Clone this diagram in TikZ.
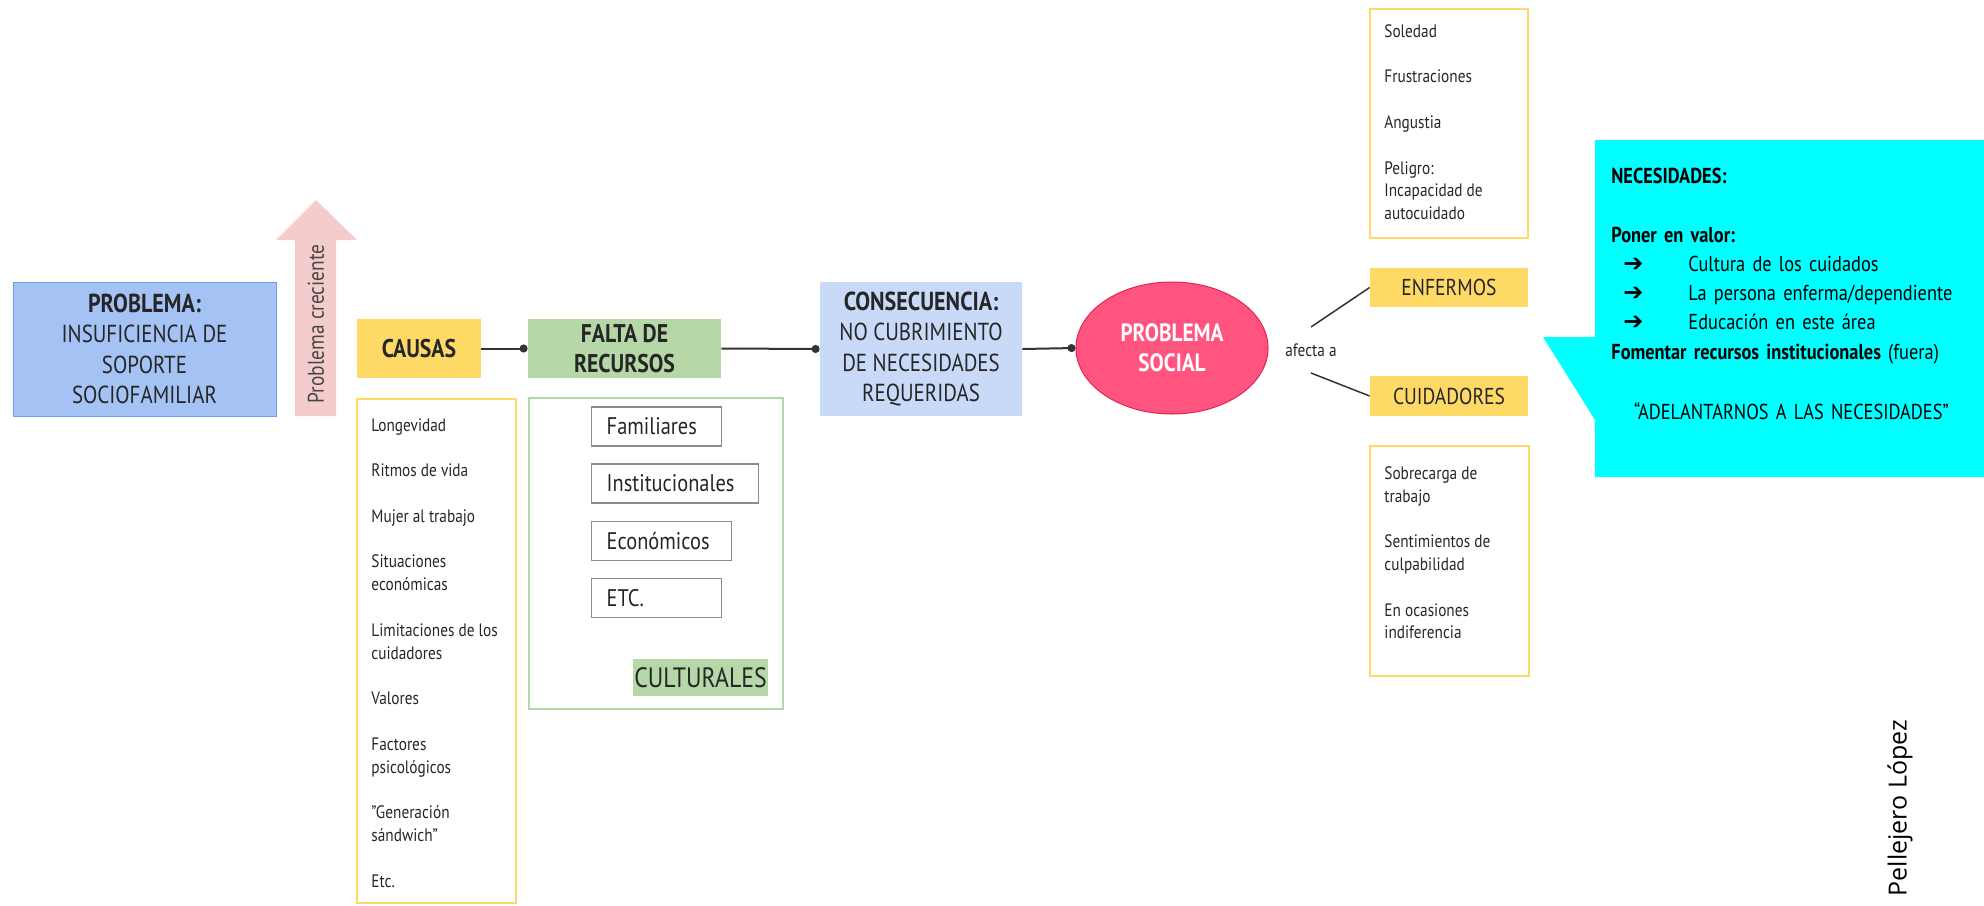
\documentclass[tikz,border=0pt]{standalone}
\usepackage{fontspec}
\setmainfont{PT Sans}[FakeStretch=0.85]
\newfontfamily\firmafont{Open Sans}
\newfontfamily\flechafont{DejaVu Sans}
\usepackage{tikz}
\usetikzlibrary{arrows.meta,positioning,shapes.geometric}

\definecolor{amarillo}{HTML}{FFD966}
\definecolor{verde}{HTML}{B6D7A8}
\definecolor{azul}{HTML}{A4C2F4}
\definecolor{azulborde}{HTML}{6D9EEB}
\definecolor{celeste}{HTML}{C9DAF8}
\definecolor{rosa}{HTML}{F4CCCC}
\definecolor{rojo}{HTML}{FF5480}
\definecolor{rojoborde}{HTML}{E8204E}
\definecolor{turquesa}{HTML}{00FFFF}
\definecolor{linea}{HTML}{333333}
\definecolor{gris}{HTML}{8C8C8C}
\definecolor{texto}{HTML}{262626}

\newcommand{\cabecera}[1]{{\bfseries\fontsize{13}{15.2}\selectfont #1}}
\newcommand{\flechita}{\hspace*{6pt}\makebox[32.5pt][l]{\flechafont\fontsize{12}{12}\selectfont ➔}}

\tikzset{
  cajon/.style={rectangle, inner sep=0pt, align=center, text=texto, font=\fontsize{12.3}{15.2}\selectfont},
  titulo/.style={cajon, font=\bfseries\fontsize{12.8}{15.2}\selectfont},
  etiqueta/.style={cajon, font=\fontsize{11.5}{14}\selectfont},
  marco/.style={rectangle, inner sep=0pt, line width=0.6pt},
  lista/.style={anchor=north west, inner sep=0pt, align=left, text=texto, font=\fontsize{9}{11.4}\selectfont},
  recurso/.style={rectangle, draw=gris, line width=0.7pt, anchor=west, inner xsep=7.5pt, inner ysep=0pt, minimum height=19.5pt, align=left, text=texto, font=\fontsize{12}{14}\selectfont},
  conector/.style={draw=linea, line width=1pt, -{Circle[length=4pt]}},
  rama/.style={draw=linea, line width=0.75pt},
}

\begin{document}
\begin{tikzpicture}[x=0.5pt,y=-0.5pt]
\useasboundingbox (0,0) rectangle (1984,905);

% problema y flecha
\node[cajon, fill=azul, draw=azulborde, line width=0.5pt, minimum width=131.5pt, minimum height=67pt] (problema) at (144.5,349) {\cabecera{PROBLEMA:}\\INSUFICIENCIA DE\\SOPORTE\\SOCIOFAMILIAR};
\fill[rosa] (295,416) -- (295,240) -- (276,240) -- (316,200) -- (357,240) -- (336,240) -- (336,416) -- cycle;
\node[rotate=90, inner sep=0pt, text=texto!85, font=\fontsize{11.4}{12}\selectfont] (creciente) at (316,324) {Problema creciente};

% cadena principal
\node[titulo, fill=amarillo, minimum width=62pt, minimum height=29.5pt] (causas) at (419,348.5) {CAUSAS};
\node[titulo, fill=verde, minimum width=96.5pt, minimum height=29.5pt] (falta) at (624.5,348.5) {FALTA DE\\RECURSOS};
\node[cajon, fill=celeste, minimum width=101pt, minimum height=67pt] (consecuencia) at (921,349) {\cabecera{CONSECUENCIA:}\\NO CUBRIMIENTO\\DE NECESIDADES\\REQUERIDAS};
\node[ellipse, fill=rojo, draw=rojoborde, line width=0.5pt, inner sep=0pt, minimum width=96pt, minimum height=66pt, align=center, text=white, font=\bfseries\fontsize{12.5}{15.2}\selectfont] (social) at (1172,348) {PROBLEMA\\SOCIAL};
\draw[conector] (causas.east) -- (falta.west);
\draw[conector] (falta.east) -- (consecuencia.west);
\draw[conector] (consecuencia.east) -- (social.west);

% afectados
\node[inner sep=0pt, text=texto, font=\fontsize{9}{11}\selectfont] (afecta) at (1311,350) {afecta a};
\node[etiqueta, fill=amarillo, minimum width=79pt, minimum height=19.5pt] (enfermos) at (1449,287.5) {ENFERMOS};
\node[etiqueta, fill=amarillo, minimum width=79pt, minimum height=20pt] (cuidadores) at (1449,396) {CUIDADORES};
\coordinate (afA) at (1311,327);
\coordinate (afB) at (1311,373);
\draw[rama] (afA) -- (enfermos.west);
\draw[rama] (afB) -- (cuidadores.west);

% listas
\node[marco, draw=amarillo, minimum width=79.5pt, minimum height=252pt] (marcoCausas) at (436.5,651) {};
\node[lista] (listaCausas) at (371,418) {Longevidad\\[11.4pt]Ritmos de vida\\[11.4pt]Mujer al trabajo\\[11.4pt]Situaciones\\econ\'omicas\\[11.4pt]Limitaciones de los\\cuidadores\\[11.4pt]Valores\\[11.4pt]Factores\\psicol\'ogicos\\[11.4pt]"Generaci\'on\\s\'andwich"\\[11.4pt]Etc.};
\node[marco, draw=amarillo, minimum width=79pt, minimum height=114.5pt] (marcoEnfermos) at (1449,123.5) {};
\node[lista] (listaEnfermos) at (1384,24) {Soledad\\[11.4pt]Frustraciones\\[11.4pt]Angustia\\[11.4pt]Peligro:\\Incapacidad de\\autocuidado};
\node[marco, draw=amarillo, minimum width=79.5pt, minimum height=115pt] (marcoCuidadores) at (1449.5,561) {};
\node[lista] (listaCuidadores) at (1384,466) {Sobrecarga de\\trabajo\\[11.4pt]Sentimientos de\\culpabilidad\\[11.4pt]En ocasiones\\indiferencia};

% recursos
\node[marco, draw=verde, minimum width=127pt, minimum height=155.5pt] (marcoRecursos) at (656,553.5) {};
\node[recurso, text width=50pt] (familiares) at (591,426.5) {Familiares};
\node[recurso, text width=68.5pt] (institucionales) at (591,483.5) {Institucionales};
\node[recurso, text width=55pt] (economicos) at (591,541) {Econ\'omicos};
\node[recurso, text width=50pt] (etc) at (591,598) {ETC.};
\node[rectangle, fill=verde, inner sep=0pt, minimum width=67.5pt, minimum height=18.5pt, text=texto, font=\fontsize{14}{16}\selectfont] (culturales) at (700.5,677.5) {CULTURALES};

% necesidades
\fill[turquesa] (1595,140) -- (1984,140) -- (1984,477) -- (1595,477) -- (1595,420) -- (1543,337) -- (1595,337) -- cycle;
\node[anchor=north west, inner sep=0pt, align=left, text width=180pt, text=black, font=\fontsize{10.8}{14.6}\selectfont] (necesidades) at (1611,168) {\textbf{NECESIDADES:}\\[14.6pt]\textbf{Poner en valor:}\\
\flechita Cultura de los cuidados\\
\flechita La persona enferma/dependiente\\
\flechita Educaci\'on en este \'area\\
\textbf{Fomentar recursos institucionales} (fuera)\\[15.6pt]
\makebox[180pt][c]{“ADELANTARNOS A LAS NECESIDADES”}};

% firma
\node[rotate=90, inner sep=0pt, text=black, font=\firmafont\fontsize{12.5}{14}\selectfont] (firma) at (1900,808) {Pellejero López};
\end{tikzpicture}
\end{document}
